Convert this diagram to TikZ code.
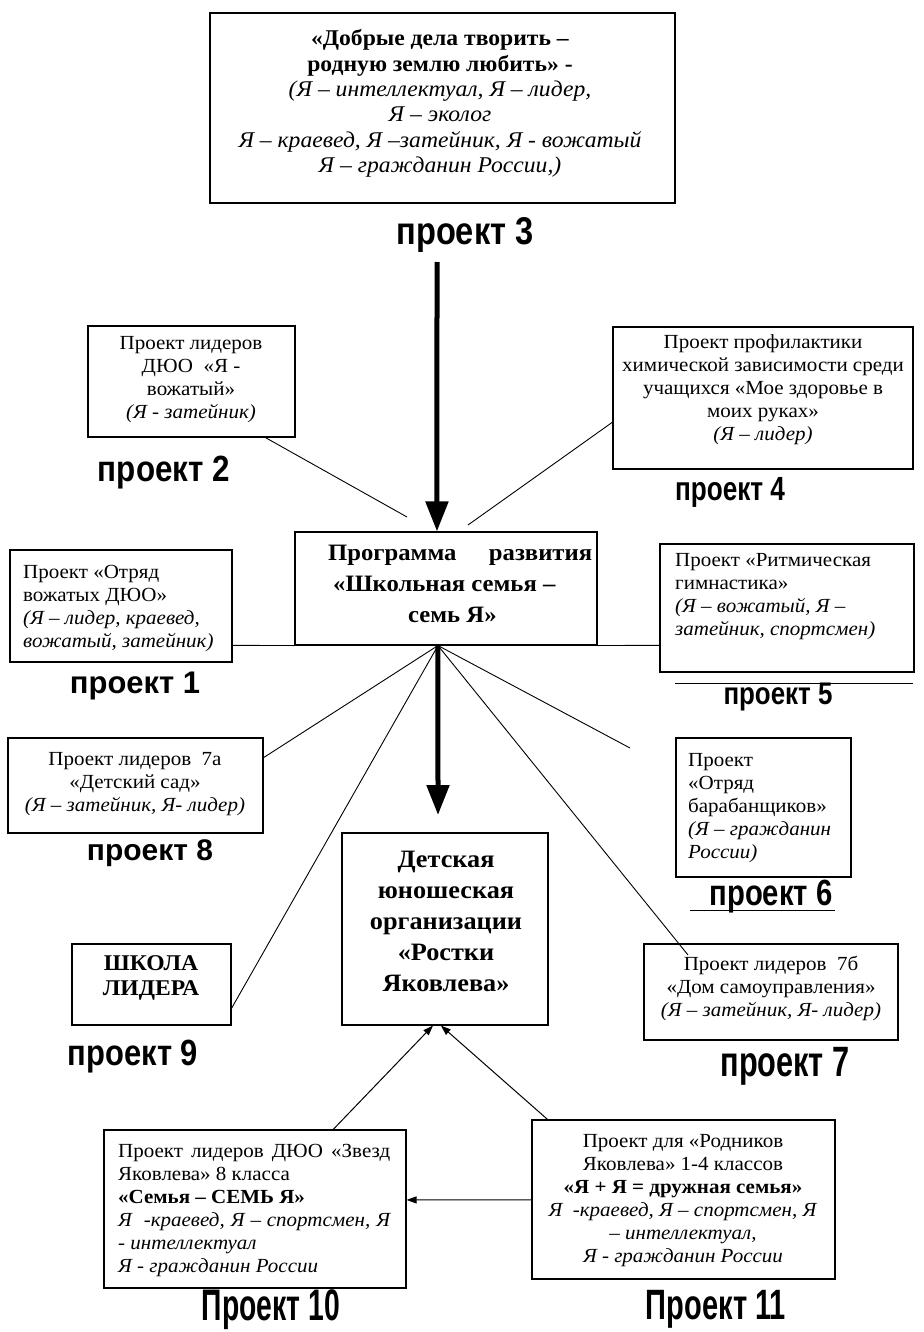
\documentclass[tikz,border=0pt]{standalone}
\usepackage{fontspec}
\usepackage{graphicx}
\setmainfont{Liberation Serif}[FakeStretch=1.05]
\newfontfamily\lblfont{Liberation Sans}
\usetikzlibrary{arrows.meta,calc}
\newcommand{\projlbl}[3]{\resizebox*{#1pt}{#2pt}{\lblfont\bfseries #3}}
\begin{document}
\begin{tikzpicture}[x=1pt,y=-1pt,
  bx/.style={draw, line width=1.1pt, inner sep=0pt},
  body/.style={inner sep=0pt, font=\fontsize{20}{23}\selectfont},
  conn/.style={line width=0.9pt},
  bigarr/.style={line width=5pt, -{Triangle[width=22pt,length=30pt]}},
  smallarr/.style={line width=1pt, -{Triangle[width=7pt,length=10pt]}},
  lbl/.style={inner sep=0pt}]
\fill[white] (0,0) rectangle (923,1332);
\useasboundingbox (0,0) rectangle (923,1332);

% boxes
\node[bx, minimum width=465pt, minimum height=190pt] (b3) at (442.5,108) {};
\node[bx, minimum width=302pt, minimum height=113pt] (bp) at (446,588.5) {};
\node[bx, minimum width=206pt, minimum height=192pt] (bd) at (445,929) {};
\node[bx, minimum width=207pt, minimum height=111pt] (b2) at (191.5,381.5) {};
\node[bx, minimum width=300pt, minimum height=142pt] (b4) at (763,398) {};
\node[bx, minimum width=222pt, minimum height=112pt] (b1) at (121,606) {};
\node[bx, minimum width=254pt, minimum height=128pt] (b5) at (787,608) {};
\node[bx, minimum width=255pt, minimum height=95pt] (b8) at (135.5,785.5) {};
\node[bx, minimum width=159pt, minimum height=81pt] (b9) at (151.5,984.5) {};
\node[bx, minimum width=175pt, minimum height=139pt] (b6) at (763.5,807.5) {};
\node[bx, minimum width=254pt, minimum height=96pt] (b7) at (771,992) {};
\node[bx, minimum width=302pt, minimum height=158pt] (b10) at (255,1209) {};
\node[bx, minimum width=303pt, minimum height=159pt] (b11) at (683.5,1199.5) {};

% texts
\node[body, font=\fontsize{22.5}{25.4}\selectfont, align=center] (t3) at (440,103.5)
 {\textbf{«Добрые дела творить –}\\\textbf{родную землю любить» -}\\
  \textit{(Я – интеллектуал, Я – лидер,}\\\textit{Я – эколог}\\
  \textit{Я – краевед, Я –затейник, Я - вожатый}\\\textit{Я – гражданин России,)}};
\node[body, font=\fontsize{23.5}{31}\selectfont\bfseries, align=left, anchor=west] (tp) at (328,584)
 {\makebox[264pt][s]{Программа  развития}\\\hspace*{5pt}«Школьная семья –\\\hspace*{80pt}семь Я»};
\node[body, font=\fontsize{25}{31}\selectfont\bfseries, align=center] (td) at (446,921.5)
 {Детская\\юношеская\\организации\\«Ростки\\Яковлева»};
\node[body, align=center] (t2) at (191,380)
 {Проект лидеров\\ДЮО~~«Я -\\вожатый»\\\textit{(Я - затейник)}};
\node[body, align=center] (t4) at (763,390)
 {Проект профилактики\\химической зависимости среди\\учащихся «Мое здоровье в\\моих руках»\\\textit{(Я – лидер)}};
\node[body, align=left, anchor=west] (t1) at (23,608.5)
 {Проект «Отряд\\вожатых ДЮО»\\\textit{(Я – лидер, краевед,}\\\textit{вожатый, затейник)}};
\node[body, align=left, anchor=west] (t5) at (675,597)
 {Проект «Ритмическая\\гимнастика»\\\textit{(Я – вожатый, Я –}\\\textit{затейник, спортсмен)}};
\node[body, align=center] (t8) at (135,784)
 {Проект лидеров~~7а\\«Детский сад»\\\textit{(Я – затейник, Я- лидер)}};
\node[body, font=\fontsize{22.5}{25}\selectfont\bfseries, align=center] (t9) at (151,977.5)
 {ШКОЛА\\ЛИДЕРА};
\node[body, align=left, anchor=west] (t6) at (688,808.5)
 {Проект\\«Отряд\\барабанщиков»\\\textit{(Я – гражданин}\\\textit{России)}};
\node[body, align=center] (t7) at (771,988.5)
 {Проект лидеров~~7б\\«Дом самоуправления»\\\textit{(Я – затейник, Я- лидер)}};
\node[body, align=left, anchor=west] (t10) at (118,1210)
 {\makebox[272pt][s]{Проект лидеров ДЮО «Звезд}\\Яковлева» 8 класса\\\textbf{«Семья – СЕМЬ Я»}\\
  \makebox[272pt][s]{\itshape Я~~-краевед, Я – спортсмен, Я}\\\textit{- интеллектуал}\\\textit{Я - гражданин России}};
\node[body, align=center] (t11) at (683,1201)
 {Проект для «Родников\\Яковлева» 1-4 классов\\\textbf{«Я + Я = дружная семья»}\\
  \textit{Я~~-краевед, Я – спортсмен, Я}\\\textit{– интеллектуал,}\\\textit{Я - гражданин России}};

% project labels
\node[lbl] (l3) at (465,235) {\projlbl{137}{35}{проект 3}};
\node[lbl] (l2) at (164,473) {\projlbl{132}{33}{проект 2}};
\node[lbl] (l4) at (730,492) {\projlbl{110}{30}{проект 4}};
\node[lbl] (l1) at (135,686) {\projlbl{130}{28}{проект 1}};
\node[lbl] (l5) at (778,697) {\projlbl{109}{28}{проект 5}};
\node[lbl] (l8) at (150,853) {\projlbl{126}{27}{проект 8}};
\node[lbl] (l6) at (771,897) {\projlbl{123}{33}{проект 6}};
\node[lbl] (l9) at (133,1057) {\projlbl{130}{33}{проект 9}};
\node[lbl] (l7) at (785,1066) {\projlbl{129}{38}{проект 7}};
\node[lbl] (l10) at (271,1310) {\projlbl{138}{40}{Проект 10}};
\node[lbl] (l11) at (716,1309) {\projlbl{140}{38}{Проект 11}};

% rules near labels 5 and 6
\draw[conn] (675,683) -- (913,683);
\draw[conn] (690,910) -- (835,910);

% coordinates
\coordinate (hub) at ($(bp.south west)!0.4735!(bp.south east)$);
\coordinate (c3) at (437,262);
\coordinate (ptop) at ($(bp.north west)!0.4702!(bp.north east)$);
\coordinate (dtop) at (438,815);
\coordinate (e2) at (407,517);
\coordinate (e4) at (468,525);
\coordinate (e6) at (630,748);
\coordinate (e7) at (688,955);

% thick arrows
\draw[bigarr] (c3) -- (ptop);
\draw[bigarr] (hub) -- (dtop);

% thin connectors
\draw[conn] ($(b2.south west)!0.855!(b2.south east)$) -- (e2);
\draw[conn] ($(b4.north west)!0.669!(b4.south west)$) -- (e4);
\draw[conn] ($(b1.north east)!0.848!(b1.south east)$) -- (bp.south west);
\draw[conn] (bp.south east) -- ($(b5.north west)!0.789!(b5.south west)$);
\draw[conn] (hub) -- ($(b8.north east)!0.21!(b8.south east)$);
\draw[conn] (hub) -- ($(b9.north east)!0.79!(b9.south east)$);
\draw[conn] (hub) -- (e6);
\draw[conn] (hub) -- (e7);

% bottom arrows
\draw[smallarr] ($(b10.north west)!0.758!(b10.north east)$) -- ($(bd.south west)!0.442!(bd.south east)$);
\draw[smallarr] ($(b11.north west)!0.053!(b11.north east)$) -- ($(bd.south west)!0.48!(bd.south east)$);
\draw[smallarr] ($(b11.north west)!0.503!(b11.south west)$) -- ($(b10.north east)!0.443!(b10.south east)$);
\end{tikzpicture}
\end{document}
